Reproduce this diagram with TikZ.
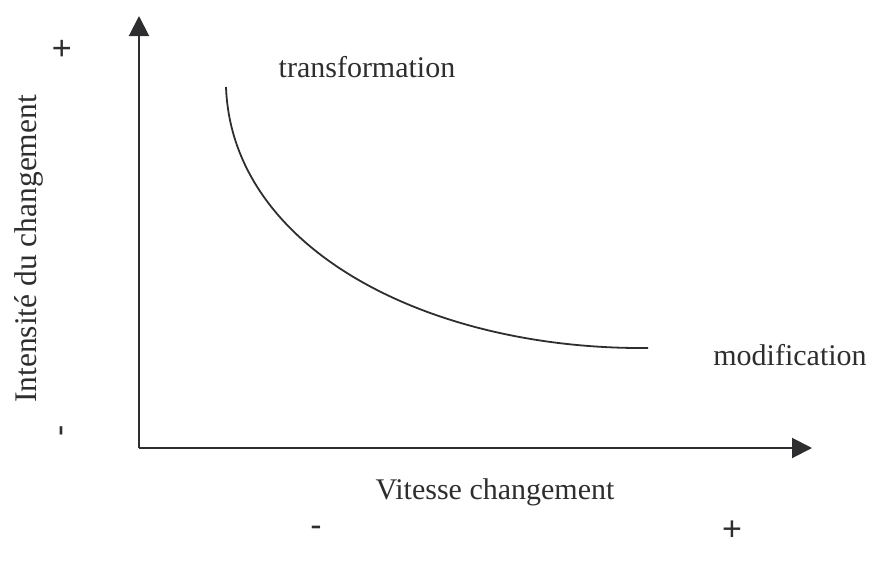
\documentclass[tikz,border=0pt]{standalone}
\usepackage{fontspec}
\setmainfont{Liberation Serif}
\newfontfamily\signfont{Liberation Sans}
\usetikzlibrary{arrows.meta}
\definecolor{ink}{HTML}{2E2E30}
\tikzset{
  axis/.style={draw=ink, line width=2pt, -{Triangle[length=20pt,width=20pt]}},
  curveline/.style={draw=ink, line width=1.8pt},
  lbl/.style={text=ink, inner sep=0pt, font=\fontsize{30}{34}\selectfont},
  sign/.style={text=ink, inner sep=0pt, font=\signfont\fontsize{34}{38}\selectfont}
}
\begin{document}
\begin{tikzpicture}[x=1pt, y=-1pt]
  \useasboundingbox (0,0) rectangle (876,565);
  % axes
  \coordinate (origin) at (139,448);
  \coordinate (ytip) at (139,16);
  \coordinate (xtip) at (812,448);
  \draw[axis] (origin) -- (ytip);
  \draw[axis] (origin) -- (xtip);
  % curve from transformation to modification
  \coordinate (cstart) at (226,87);
  \coordinate (cend) at (648,348);
  \draw[curveline] (cstart) .. controls (232,250) and (430,350) .. (cend);
  % labels
  \node[lbl] (trans) at (367,67) {transformation};
  \node[lbl] (modif) at (790,355) {modification};
  \node[lbl] (xlab) at (495,492) {Vitesse changement};
  \node[lbl, rotate=90, font=\fontsize{31.5}{36}\selectfont] (ylab) at (29,249) {Intensité du changement};
  % signs
  \node[sign, rotate=90] (yplus) at (64,49) {+};
  \node[sign, rotate=90] (yminus) at (65,431) {-};
  \node[sign] (xminus) at (316,531) {-};
  \node[sign] (xplus) at (732,531) {+};
\end{tikzpicture}
\end{document}
